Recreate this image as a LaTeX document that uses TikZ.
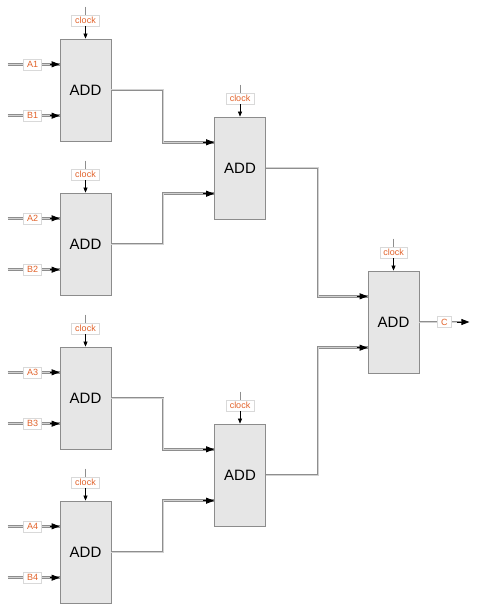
\documentclass[tikz,border=0pt]{standalone}
\usepackage{fontspec}
\setmainfont{Liberation Sans}
\usetikzlibrary{calc,arrows.meta}
\definecolor{lblorange}{HTML}{E2622A}
\definecolor{boxfill}{HTML}{E6E6E6}
\definecolor{boxline}{HTML}{8C8C8C}
\definecolor{wiregray}{HTML}{8E8E8E}
\definecolor{wirecore}{HTML}{D2D2D2}
\tikzset{
 addbox/.style={draw=boxline, fill=boxfill, line width=0.8pt, minimum width=51pt, minimum height=102pt, inner sep=0pt, font=\fontsize{15}{15}\selectfont},
 sig/.style={draw=black!15, fill=white, line width=0.5pt, text=lblorange, font=\fontsize{9}{9}\selectfont, inner xsep=3.5pt, inner ysep=1pt, minimum height=11pt},
 wire/.style={draw=wiregray, line width=0.85pt, double=wirecore, double distance=1pt},
 tipar/.style={-{Triangle[length=8pt,width=6pt]}, black, line width=0.8pt},
 clkline/.style={draw=wiregray, line width=0.9pt},
 clktip/.style={-{Triangle[length=5pt,width=4pt]}, black, line width=0.6pt},
}
\begin{document}
\begin{tikzpicture}[x=1pt,y=-1pt]
\useasboundingbox (0,0) rectangle (480,612);
\coordinate (bendA) at (163,0);
\coordinate (bendB) at (318,0);
% boxes
\foreach \i/\x/\y in {1/85.5/90,2/85.5/244,3/85.5/398,4/85.5/552,5/240/168,6/240/475,7/393.5/322} {
  \node[addbox] (add\i) at (\x,\y) {ADD};
  \coordinate (add\i-in1) at ($(add\i.north west)!0.25!(add\i.south west)$);
  \coordinate (add\i-in2) at ($(add\i.north west)!0.75!(add\i.south west)$);
  \coordinate (ck\i) at ($(add\i.north)+(0,-32)$);
  \draw[clkline] (ck\i) -- ($(add\i.north)+(0,-18)$);
  \node[sig] (clk\i) at ($(add\i.north)+(0,-18)$) {clock};
  \draw[clktip] (clk\i.south) -- (add\i.north);
}
% primary inputs
\foreach \i in {1,...,4} {
  \coordinate (a\i-s) at ($(add\i-in1)+(-52,0)$);
  \coordinate (b\i-s) at ($(add\i-in2)+(-52,0)$);
  \draw[wire] (a\i-s) -- (add\i-in1);
  \draw[wire] (b\i-s) -- (add\i-in2);
  \node[sig] (a\i) at ($(add\i-in1)+(-27,0)$) {A\i};
  \node[sig] (b\i) at ($(add\i-in2)+(-27,0)$) {B\i};
  \draw[tipar] ($(add\i-in1)+(-10,0)$) -- (add\i-in1);
  \draw[tipar] ($(add\i-in2)+(-10,0)$) -- (add\i-in2);
}
% level 1 to level 2
\draw[wire] (add1.east) -- (add1.east -| bendA) |- (add5-in1);
\draw[wire] (add2.east) -- (add2.east -| bendA) |- (add5-in2);
\draw[wire] (add3.east) -- (add3.east -| bendA) |- (add6-in1);
\draw[wire] (add4.east) -- (add4.east -| bendA) |- (add6-in2);
% level 2 to level 3
\draw[wire] (add5.east) -- (add5.east -| bendB) |- (add7-in1);
\draw[wire] (add6.east) -- (add6.east -| bendB) |- (add7-in2);
\foreach \t in {add5-in1,add5-in2,add6-in1,add6-in2,add7-in1,add7-in2} {
  \draw[tipar] ($(\t)+(-11,0)$) -- (\t);
}
% output
\coordinate (cend) at ($(add7.east)+(50,0)$);
\draw[wire] (add7.east) -- ($(cend)+(-8,0)$);
\node[sig] (c) at ($(add7.east)+(25,0)$) {C};
\draw[tipar] ($(cend)+(-12,0)$) -- (cend);
\end{tikzpicture}
\end{document}
